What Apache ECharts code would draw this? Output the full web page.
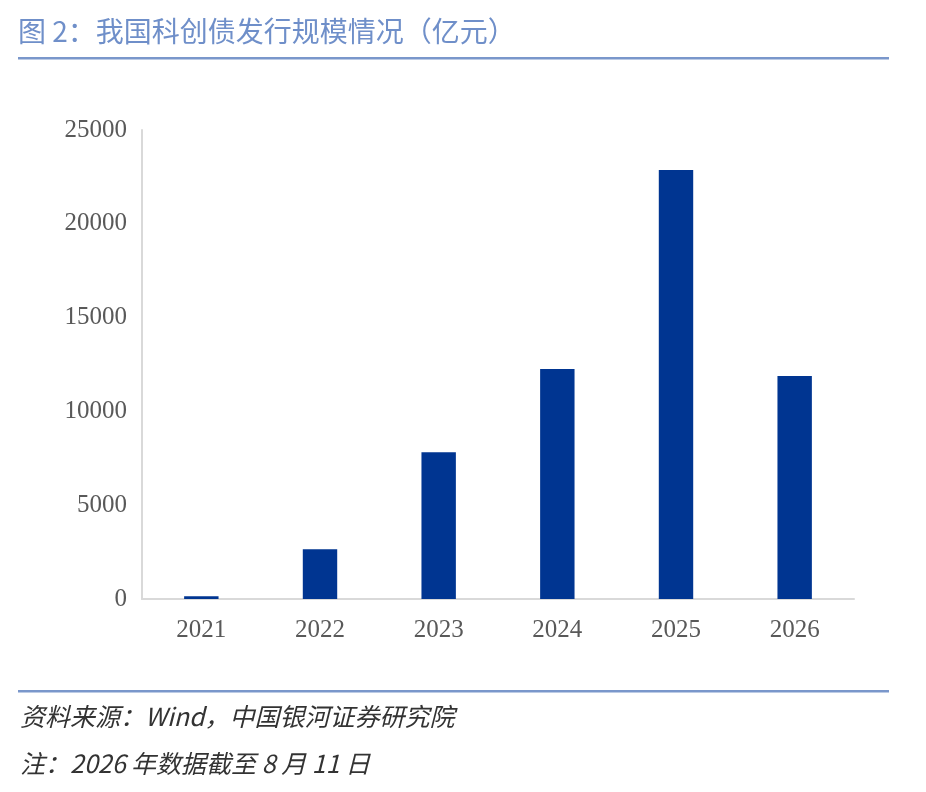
<!DOCTYPE html>
<html lang="zh">
<head>
<meta charset="utf-8">
<title>我国科创债发行规模情况</title>
<script src="https://cdn.jsdelivr.net/npm/echarts@6/dist/echarts.min.js"></script>
<style>
  html, body { margin: 0; padding: 0; background: #fff; }
  #main { width: 926px; height: 792px; }
</style>
</head>
<body>
<div id="main"></div>
<script type="text/javascript">
// 年份与发行规模（亿元）
var years = ['2021', '2022', '2023', '2024', '2025', '2026'];
var issueAmount = [150, 2650, 7820, 12260, 22870, 11890];
var yTicks = { min: 0, max: 25000, interval: 5000 };

var titleText = '图 2：我国科创债发行规模情况（亿元）';
var sourceText = '资料来源：Wind，中国银河证券研究院';
var noteText = '注：2026 年数据截至 8 月 11 日';

var cjk = '"Noto Sans CJK SC", "Noto Sans", sans-serif';
var num = '"Liberation Serif", "DejaVu Serif", serif';

var myChart = echarts.init(document.getElementById('main'));
var option = {
    animation: false,
    grid: { left: 142, right: 72, top: 130, bottom: 193 },
    graphic: [
        { type: 'text', left: 18, top: 17,
          style: { text: titleText, fill: '#6f8fc9', font: '28px ' + cjk } },
        { type: 'rect', shape: { x: 18, y: 57, width: 871, height: 2.5 },
          style: { fill: '#7a97cb' } },
        { type: 'rect', shape: { x: 18, y: 690, width: 871, height: 2.5 },
          style: { fill: '#7a97cb' } },
        { type: 'text', left: 20, top: 704,
          style: { text: sourceText, fill: '#333333', font: 'italic 25px ' + cjk } },
        { type: 'text', left: 20, top: 751,
          style: { text: noteText, fill: '#333333', font: 'italic 25px ' + cjk } }
    ],
    xAxis: {
        type: 'category',
        data: years,
        axisLine: { lineStyle: { color: '#d9d9d9', width: 2 } },
        axisTick: { show: false },
        axisLabel: { color: '#595959', fontSize: 25, fontFamily: num, margin: 19 }
    },
    yAxis: {
        type: 'value',
        min: yTicks.min,
        max: yTicks.max,
        interval: yTicks.interval,
        axisLine: { show: true, lineStyle: { color: '#d9d9d9', width: 2 } },
        axisTick: { show: false },
        splitLine: { show: false },
        axisLabel: {
            color: '#595959', fontSize: 25, fontFamily: num, margin: 15,
            formatter: function (v) { return String(v); }
        }
    },
    series: [{
        type: 'bar',
        data: issueAmount,
        barWidth: '29%',
        itemStyle: { color: '#003591' }
    }]
};
myChart.setOption(option);
</script>
</body>
</html>
